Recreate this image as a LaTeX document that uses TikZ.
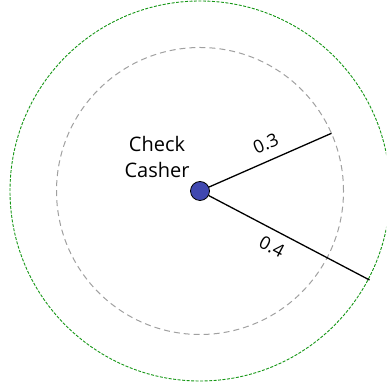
\documentclass[tikz,border=0pt]{standalone}
\usepackage{fontspec}
\setmainfont{Open Sans}
\usepackage{xcolor}
\definecolor{ringgreen}{RGB}{20,150,20}
\definecolor{ringgray}{RGB}{160,160,160}
\definecolor{hubblue}{RGB}{64,72,176}
\usepackage{tikz}
\usetikzlibrary{arrows.meta, positioning}

\begin{document}
\begin{tikzpicture}[x=1pt, y=1pt,
    hub/.style={
        circle, draw, thick,
        fill=hubblue, minimum size=19pt, inner sep=0pt
    },
    spoke/.style={line width=1.3pt, black},
    prob/.style={font=\fontsize{18}{20}\selectfont, sloped, inner sep=1pt}
]
\useasboundingbox (0,0) rectangle (386,387);
\clip (0,0) rectangle (386,387);

% rings
\draw[ringgreen, line width=0.9pt, dash pattern=on 3pt off 1.5pt] (200,196) circle (190);
\draw[ringgray, line width=1pt, dash pattern=on 6pt off 4pt] (200,196) circle (143.5);

\node[hub] (casher) at (200,196) {};
\node[font=\fontsize{20}{26}\selectfont, align=center] (name) at (157,230) {Check\\Casher};

\coordinate (near) at (331.5,253.7);
\coordinate (far) at (369.5,107);

\draw[spoke] (casher) -- node[prob, pos=0.52, above=9pt] {0.3} (near);
\draw[spoke] (casher) -- node[prob, pos=0.44, below=8pt] {0.4} (far);
\end{tikzpicture}
\end{document}
